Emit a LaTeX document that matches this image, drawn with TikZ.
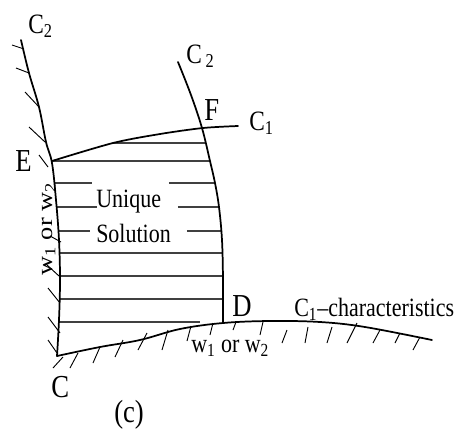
\documentclass[tikz,border=0pt]{standalone}
\usepackage{fontspec}
\setmainfont{Liberation Serif}
\newcommand{\vs}[1]{\scalebox{1}[1.2]{#1}}
\begin{document}
\begin{tikzpicture}[x=0.75pt,y=-0.75pt,
 curve/.style={line width=1.3pt, line cap=round},
 hatch/.style={line width=0.7pt},
 hline/.style={line width=0.8pt, black!75},
 lbl/.style={inner sep=0pt, anchor=base west},
 big/.style={lbl, font=\fontsize{20}{20}\selectfont},
 mid/.style={lbl, font=\fontsize{17.5}{18}\selectfont},
 txt/.style={lbl, font=\fontsize{16.5}{17}\selectfont}]
\useasboundingbox (0,0) rectangle (462,437);
% horizontal hatching of the region
\foreach \y/\a/\b in {143/113/206, 161/53/210, 253/59/223, 276/60/223, 299/60/223, 322/59/200}
  \draw[hline] (\a,\y) -- (\b,\y);
\foreach \y/\a/\b/\c/\d in {183/54/92/169/215, 207/56/97/178/219, 231/58/90/187/221}{
  \draw[hline] (\a,\y) -- (\b,\y);
  \draw[hline] (\c,\y) -- (\d,\y);}
% left C2 curve
\draw[curve] plot[smooth, tension=0.6] coordinates {(21,40) (29,73) (39,107) (46,142) (52,163) (56,200) (59,240) (60,280) (59,320) (57,356)};
% right C2 curve
\draw[curve] plot[smooth, tension=0.6] coordinates {(178,62) (191,95) (202,128) (210,161) (215,183) (219,207) (222,240) (223,280) (223,322)};
% top C1 curve
\draw[curve] plot[smooth, tension=0.5] coordinates {(52,161) (113,143) (160,134) (203,128) (238,126)};
% bottom C1 curve
\draw[curve] plot[smooth, tension=0.6] coordinates {(57,356) (100,347) (140,340) (180,329) (223,323) (270,321) (320,322) (365,327) (432,340)};
% hatches on left curve
\foreach \xa/\ya/\xb/\yb in {24/49/12/45, 29/73/16/68, 39/107/25/92, 45/142/29/127, 48/167/39/155,
  61/242/50/236, 59/276/47/265, 60/303/48/288, 60/333/48/317, 57/353/48/340}
  \draw[hatch] (\xa,\ya) -- (\xb,\yb);
% hatches on bottom curve
\foreach \xa/\ya/\xb/\yb in {63/357/53/368, 78/353/70/368, 100/347/93/363, 123/340/115/357, 147/333/138/350,
  168/330/162/350, 191/326/187/341, 213/323/210/335, 236/322/233/330, 263/322/260/335, 287/330/282/343,
  308/327/305/343, 332/327/327/343, 357/323/347/343, 380/330/373/343, 400/333/395/343, 420/337/413/350}
  \draw[hatch] (\xa,\ya) -- (\xb,\yb);
% labels
\node[mid] (c2a) at (28,33) {\vs{C\textsubscript{2}}};
\node[mid] (c2b) at (186,63) {\vs{C\,\textsubscript{2}}};
\node[big] (F) at (204,120) {\vs{F}};
\node[mid] (c1) at (249,130) {\vs{C\textsubscript{1}}};
\node[big] (E) at (15,171) {\vs{E}};
\node[big] (D) at (232,316) {\vs{D}};
\node[big] (C) at (51,397) {\vs{C}};
\node[txt] (chr) at (294,316) {\vs{C\textsubscript{1}--characteristics}};
\node[txt] (wb) at (191,352) {\vs{w\textsubscript{1} or w\textsubscript{2}}};
\node[txt, rotate=90] (wl) at (52,276) {\scalebox{1.2}[1]{w\textsubscript{1} or w\textsubscript{2}}};
\node[txt] (u) at (96,207) {\vs{Unique}};
\node[txt] (s) at (96,242) {\vs{Solution}};
\node[big] (lab) at (114,422) {\vs{(c)}};
\end{tikzpicture}
\end{document}
